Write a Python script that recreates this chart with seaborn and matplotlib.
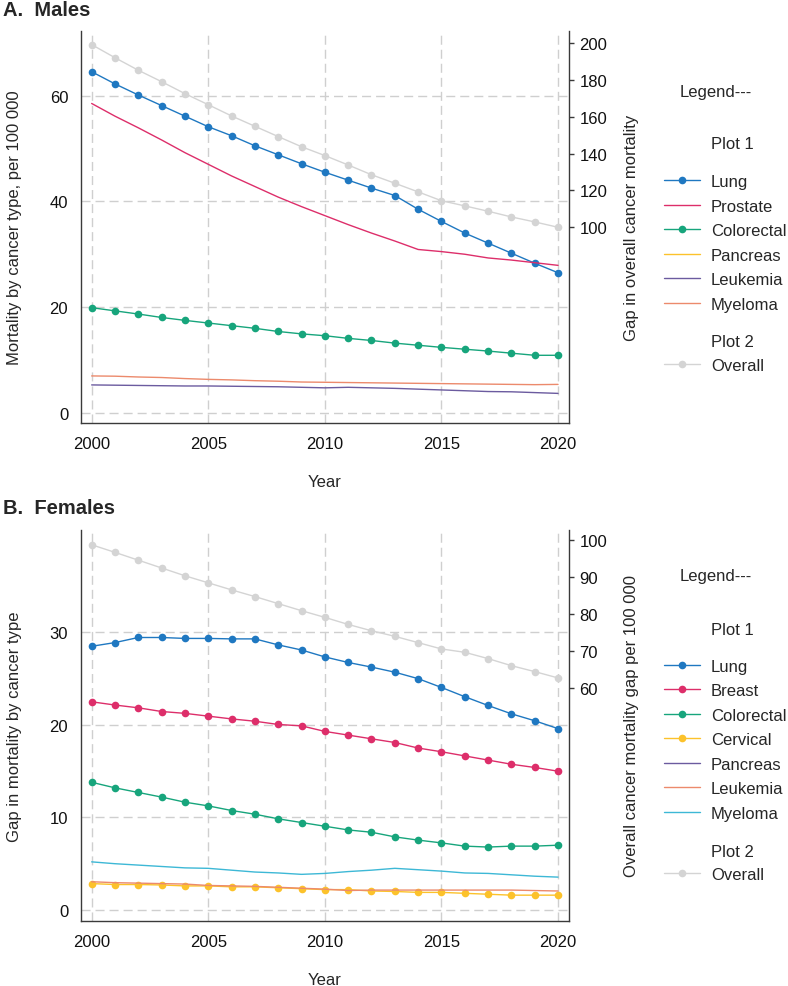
import matplotlib
matplotlib.use("Agg")
import numpy as np
import pandas as pd
import matplotlib.pyplot as plt
import seaborn as sns
from matplotlib.lines import Line2D

years = list(range(2000, 2021))

# --- Males (panel A) ---
m_lung = [64.5, 62.2, 60.1, 58.1, 56.1, 54.1, 52.4, 50.5, 48.8, 47.1, 45.5,
          44.0, 42.5, 41.1, 38.5, 36.2, 34.0, 32.1, 30.2, 28.3, 26.5]
m_prostate = [58.5, 56.1, 53.9, 51.6, 49.2, 47.0, 44.8, 42.8, 40.8, 39.0, 37.3,
              35.6, 34.0, 32.5, 30.9, 30.5, 30.0, 29.3, 28.9, 28.4, 27.9]
m_colorectal = [19.9, 19.3, 18.7, 18.05, 17.5, 17.0, 16.5, 16.0, 15.4, 14.95, 14.6,
                14.1, 13.7, 13.2, 12.8, 12.4, 12.05, 11.7, 11.3, 10.9, 10.9]
m_leukemia = [5.3, 5.25, 5.2, 5.15, 5.1, 5.1, 5.05, 5.0, 4.95, 4.85, 4.75,
              4.85, 4.75, 4.65, 4.5, 4.35, 4.2, 4.05, 4.0, 3.85, 3.7]
m_myeloma = [7.0, 6.95, 6.8, 6.7, 6.5, 6.35, 6.25, 6.1, 6.0, 5.85, 5.8,
             5.75, 5.7, 5.65, 5.6, 5.55, 5.5, 5.45, 5.4, 5.35, 5.4]
m_overall = [199.1, 192.0, 185.2, 179.0, 172.5, 166.5, 160.4, 154.8, 149.2, 143.7, 138.9,
             133.8, 128.5, 123.9, 119.2, 114.4, 111.6, 108.7, 105.6, 102.9, 100.0]

# --- Females (panel B) ---
f_lung = [28.5, 28.9, 29.45, 29.45, 29.35, 29.35, 29.3, 29.3, 28.65, 28.1, 27.35,
          26.75, 26.25, 25.7, 25.0, 24.05, 23.05, 22.1, 21.2, 20.45, 19.6]
f_breast = [22.5, 22.15, 21.85, 21.45, 21.25, 20.95, 20.65, 20.4, 20.05, 19.9, 19.3,
            18.9, 18.5, 18.1, 17.5, 17.1, 16.65, 16.2, 15.75, 15.4, 15.0]
f_colorectal = [13.8, 13.2, 12.7, 12.2, 11.65, 11.25, 10.75, 10.35, 9.85, 9.45, 9.05,
                8.65, 8.4, 7.9, 7.55, 7.25, 6.9, 6.8, 6.9, 6.9, 7.0]
f_cervical = [2.85, 2.75, 2.75, 2.7, 2.6, 2.6, 2.5, 2.5, 2.4, 2.3, 2.2,
              2.2, 2.05, 2.0, 1.9, 1.9, 1.8, 1.7, 1.6, 1.6, 1.6]
f_leukemia = [3.05, 2.95, 2.9, 2.85, 2.8, 2.65, 2.6, 2.55, 2.45, 2.35, 2.25,
              2.1, 2.15, 2.15, 2.15, 2.15, 2.15, 2.15, 2.15, 2.1, 2.05]
f_myeloma = [5.2, 5.0, 4.85, 4.7, 4.55, 4.5, 4.3, 4.1, 4.0, 3.85, 3.95,
             4.15, 4.3, 4.5, 4.35, 4.2, 4.0, 3.95, 3.8, 3.65, 3.55]
f_overall = [98.65, 96.6, 94.5, 92.4, 90.3, 88.4, 86.5, 84.7, 82.8, 80.9, 79.1,
             77.2, 75.5, 74.0, 72.3, 70.6, 69.7, 68.0, 66.1, 64.5, 62.8]

BLUE, PINK, GREEN, YELLOW = "#1f78c1", "#dd2e6a", "#17a57c", "#fcc22b"
PURPLE, SALMON, CYAN, GRAY = "#6b5b9f", "#ec8a6c", "#3db8d6", "#d4d4d4"

sns.set_theme(style="white")
plt.rcParams["font.family"] = ["Liberation Sans", "DejaVu Sans"]
FS = 12

# (label, values, colour, has markers); values None -> legend only
males = [("Lung", m_lung, BLUE, True), ("Prostate", m_prostate, PINK, False),
         ("Colorectal", m_colorectal, GREEN, True), ("Pancreas", None, YELLOW, False),
         ("Leukemia", m_leukemia, PURPLE, False), ("Myeloma", m_myeloma, SALMON, False)]
females = [("Lung", f_lung, BLUE, True), ("Breast", f_breast, PINK, True),
           ("Colorectal", f_colorectal, GREEN, True), ("Cervical", f_cervical, YELLOW, True),
           ("Pancreas", None, PURPLE, False), ("Leukemia", f_leukemia, SALMON, False),
           ("Myeloma", f_myeloma, CYAN, False)]

fig = plt.figure(figsize=(7.88, 9.87), dpi=100)
ax_a = fig.add_axes([0.1024, 0.5704, 0.6197, 0.3972])
ax_b = fig.add_axes([0.1024, 0.0656, 0.6197, 0.3967])

grid_kw = dict(color="#cfcfcf", linewidth=1, linestyle=(0, (6.5, 3.6)))


def draw_panel(ax, series, overall, ylim, yticks, ylim2, yticks2, ylabel, ylabel2):
    for name, vals, col, mk in series:
        if vals is None:
            continue
        sns.lineplot(x=years, y=vals, ax=ax, color=col, linewidth=1,
                     marker="o" if mk else None, markersize=5.5, markeredgewidth=0)
    ax.set_xlim(1999.53, 2020.47)
    ax.set_ylim(*ylim)
    ax.set_yticks(yticks)
    ax.set_xticks(range(2000, 2021, 5))
    ax.grid(True, **grid_kw)
    ax.tick_params(axis="both", length=0, labelsize=FS, pad=9, colors="#111111")
    ax.set_xlabel("Year", fontsize=FS, labelpad=17)
    ax.set_ylabel(ylabel, fontsize=FS, labelpad=20)
    for s in ("top", "right"):
        ax.spines[s].set_visible(False)
    for s in ("left", "bottom"):
        ax.spines[s].set_color("#3a3a3a")
        ax.spines[s].set_linewidth(1)

    ax2 = ax.twinx()
    sns.lineplot(x=years, y=overall, ax=ax2, color=GRAY, linewidth=1,
                 marker="o", markersize=5.5, markeredgewidth=0)
    ax2.set_ylim(*ylim2)
    ax2.set_yticks(yticks2)
    ax2.grid(False)
    ax2.tick_params(axis="y", length=3.5, width=1, labelsize=FS, pad=4,
                    colors="#3a3a3a", labelcolor="#111111")
    ax2.set_ylabel(ylabel2, fontsize=FS, labelpad=12)
    for s in ("top", "left", "bottom"):
        ax2.spines[s].set_visible(False)
    ax2.spines["right"].set_color("#3a3a3a")
    ax2.spines["right"].set_linewidth(1)


draw_panel(ax_a, males, m_overall, (-1.9, 72.2), [0, 20, 40, 60],
           (-6.2, 206.5), list(range(100, 201, 20)),
           "Mortality by cancer type, per 100 000", "Gap in overall cancer mortality")
draw_panel(ax_b, females, f_overall, (-1.22, 41.1), [0, 10, 20, 30],
           (-2.7, 102.7), list(range(60, 101, 10)),
           "Gap in mortality by cancer type", "Overall cancer mortality gap per 100 000")

fig.text(3 / 788, 1 - 10 / 987, "A.  Males", fontsize=14.5, fontweight="bold", va="center")
fig.text(3 / 788, 1 - 508 / 987, "B.  Females", fontsize=14.5, fontweight="bold", va="center")


def side_legend(series, y_head, y_p1, y_first, y_p2, y_overall):
    H = lambda y: 1 - y / 987
    fig.text(680 / 788, H(y_head), "Legend---", fontsize=FS, va="center")
    fig.text(711 / 788, H(y_p1), "Plot 1", fontsize=FS, va="center")
    fig.text(711 / 788, H(y_p2), "Plot 2", fontsize=FS, va="center")
    handles = [Line2D([], [], color=c, lw=1, marker="o" if mk else None,
                      markersize=5.5, markeredgewidth=0, label=n)
               for n, _, c, mk in series]
    leg_kw = dict(loc="upper left", frameon=False, fontsize=FS, handlelength=2.16,
                  handletextpad=0.66, labelspacing=0.57, borderpad=0, borderaxespad=0)
    fig.legend(handles=handles, bbox_to_anchor=(664 / 788, H(y_first - 8)), **leg_kw)
    over = [Line2D([], [], color=GRAY, lw=1, marker="o", markersize=5.5,
                   markeredgewidth=0, label="Overall")]
    fig.legend(handles=over, bbox_to_anchor=(664 / 788, H(y_overall - 8)), **leg_kw)


side_legend(males, 92.3, 144.3, 183.3, 342.7, 366.7)
side_legend(females, 576.7, 630.7, 667.7, 852.7, 876.0)

fig.savefig("out.png", dpi=100)
